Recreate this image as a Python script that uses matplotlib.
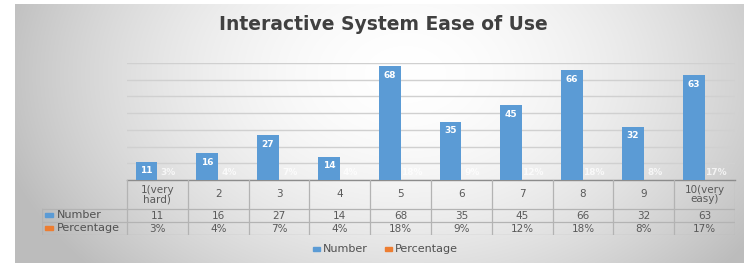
import numpy as np
import matplotlib
matplotlib.use("Agg")
import matplotlib.pyplot as plt
from matplotlib.patches import Rectangle

categories = ["1(very\nhard)", "2", "3", "4", "5", "6", "7", "8", "9", "10(very\neasy)"]
number = [11, 16, 27, 14, 68, 35, 45, 66, 32, 63]
percentage = [0.03, 0.04, 0.07, 0.04, 0.18, 0.09, 0.12, 0.18, 0.08, 0.17]
pct_labels = ["3%", "4%", "7%", "4%", "18%", "9%", "12%", "18%", "8%", "17%"]
series_names = ["Number", "Percentage"]

W, H = 744, 263
BLUE = "#5B9BD5"
ORANGE = "#ED7D31"
TXT = "#595959"
GRID = "#d0d0d0"
FONT = "DejaVu Sans"

fig = plt.figure(figsize=(W / 100, H / 100), dpi=100)
fig.patch.set_facecolor("white")

def fx(px):
    return px / W

def fy(py):
    return 1 - py / H

# background gradient panel
bg = fig.add_axes([fx(15), fy(263), fx(744) - fx(15), fy(4) - fy(263)])
yy, xx = np.mgrid[0:259, 0:729]
cx, cy = 390, 70
d = np.sqrt(((xx - cx) / 400.0) ** 2 + ((yy - cy) / 280.0) ** 2)
v = 1.0 - 0.24 * np.clip(d, 0, 1.05) ** 1.8
img = np.dstack([v, v, v])
bg.imshow(img, aspect="auto", extent=[0, 1, 0, 1], interpolation="bilinear")
bg.set_axis_off()

# main axes
L, R, T, B = 127, 735, 63, 180
ax = fig.add_axes([fx(L), fy(B), fx(R) - fx(L), fy(T) - fy(B)])
ax.patch.set_alpha(0)
n = len(number)
x = np.arange(n)
bw = 0.36
ax.bar(x - 0.18, number, bw, color=BLUE, zorder=3)
ax.bar(x + 0.18, percentage, bw, color=ORANGE, zorder=3)
ax.set_xlim(-0.5, n - 0.5)
ax.set_ylim(0, 70)
ax.set_yticks(np.arange(0, 71, 10))
ax.yaxis.grid(True, color=GRID, lw=1.0, zorder=0)
ax.set_axisbelow(True)
ax.tick_params(left=False, labelleft=False, bottom=False, labelbottom=False)
for s in ["left", "right", "top"]:
    ax.spines[s].set_visible(False)
ax.spines["bottom"].set_color("#8c8c8c")
ax.spines["bottom"].set_linewidth(1.0)

for xi, v in zip(x, number):
    ax.annotate(str(v), (xi - 0.18, v), xytext=(0, -3.5), textcoords="offset points",
                ha="center", va="top", color="white", fontsize=6.5,
                fontweight="bold", family=FONT, zorder=4)
for xi, v, lab in zip(x, percentage, pct_labels):
    ax.annotate(lab, (xi + 0.18, v), xytext=(0, 2), textcoords="offset points",
                ha="center", va="bottom", color="white", fontsize=6.5,
                fontweight="bold", family=FONT, alpha=0.75, zorder=4)

# title
fig.text(fx(383), fy(24), "Interactive System Ease of Use", ha="center", va="center",
         fontsize=13.5, fontweight="bold", color="#404040", family=FONT)

# data table
tab = fig.add_axes([fx(42), fy(235), fx(735) - fx(42), fy(180) - fy(235)])
tab.set_xlim(42, 735)
tab.set_ylim(235, 180)
tab.set_axis_off()
tab.patch.set_alpha(0)
LC = "#b3b3b3"
colw = (735 - 127) / n
tab.plot([127, 735], [209, 209], color=LC, lw=0.9)
tab.plot([42, 127], [209, 209], color=LC, lw=0.9)
tab.plot([42, 735], [222, 222], color=LC, lw=0.9)
tab.plot([42, 735], [235, 235], color=LC, lw=0.9)
for i in range(n + 1):
    xv = 127 + i * colw
    tab.plot([xv, xv], [180, 235], color=LC, lw=0.9)
tab.plot([42, 42], [209, 235], color=LC, lw=0.9)

for i, c in enumerate(categories):
    xc = 127 + (i + 0.5) * colw
    tab.text(xc, 194.5, c, ha="center", va="center", fontsize=7.5, color=TXT,
             family=FONT, linespacing=0.9)
    tab.text(xc, 215.7, str(number[i]), ha="center", va="center", fontsize=7.5,
             color=TXT, family=FONT)
    tab.text(xc, 228.7, pct_labels[i], ha="center", va="center", fontsize=7.5,
             color=TXT, family=FONT)

for j, (name, col) in enumerate(zip(series_names, [BLUE, ORANGE])):
    yc = 215.5 + 13 * j
    tab.add_patch(Rectangle((45, yc - 2), 8, 4, color=col))
    tab.text(57, yc, name, ha="left", va="center", fontsize=8, color="#505050",
             family=FONT)

# legend
leg = fig.add_axes([0, 0, 1, 1])
leg.set_xlim(0, W)
leg.set_ylim(H, 0)
leg.set_axis_off()
leg.patch.set_alpha(0)
for (name, col, x0) in [(series_names[0], BLUE, 313), (series_names[1], ORANGE, 385)]:
    leg.add_patch(Rectangle((x0, 247), 7, 4, color=col))
    leg.text(x0 + 10, 249, name, ha="left", va="center", fontsize=8, color="#505050",
             family=FONT)

fig.savefig("out.png", dpi=100)
